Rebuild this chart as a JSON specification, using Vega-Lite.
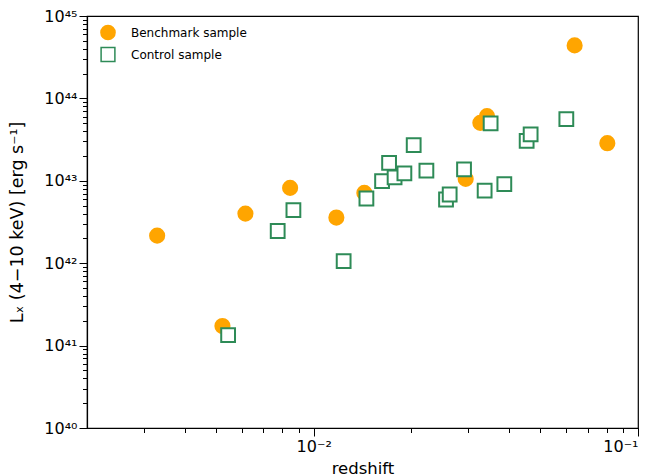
{
  "$schema": "https://vega.github.io/schema/vega-lite/v6.json",
  "width": 551,
  "height": 412,
  "autosize": "none",
  "padding": {"left": 87, "top": 16, "right": 19, "bottom": 48},
  "background": "white",
  "config": {
    "font": "DejaVu Sans",
    "view": {"stroke": "black", "strokeWidth": 1.2},
    "axis": {"grid": false, "domainColor": "black", "tickColor": "black", "labelColor": "black", "titleColor": "black", "titleFontWeight": "normal", "labelFont": "DejaVu Sans", "titleFont": "DejaVu Sans", "domainWidth": 1.2, "tickWidth": 1}
  },
  "data": {
    "values": [
      {"z": 0.003291, "L": 2.16e42, "sample": "Benchmark sample"},
      {"z": 0.005232, "L": 1.73e41, "sample": "Benchmark sample"},
      {"z": 0.006159, "L": 4.0e42, "sample": "Benchmark sample"},
      {"z": 0.008459, "L": 8.2e42, "sample": "Benchmark sample"},
      {"z": 0.011747, "L": 3.58e42, "sample": "Benchmark sample"},
      {"z": 0.01433, "L": 7.13e42, "sample": "Benchmark sample"},
      {"z": 0.02942, "L": 1.055e43, "sample": "Benchmark sample"},
      {"z": 0.03265, "L": 5.05e43, "sample": "Benchmark sample"},
      {"z": 0.03423, "L": 6.1e43, "sample": "Benchmark sample"},
      {"z": 0.06377, "L": 4.4e44, "sample": "Benchmark sample"},
      {"z": 0.08043, "L": 2.86e43, "sample": "Benchmark sample"},
      {"z": 0.005447, "L": 1.34e41, "sample": "Control sample"},
      {"z": 0.007745, "L": 2.46e42, "sample": "Control sample"},
      {"z": 0.008659, "L": 4.4e42, "sample": "Control sample"},
      {"z": 0.01237, "L": 1.06e42, "sample": "Control sample"},
      {"z": 0.01454, "L": 6.1e42, "sample": "Control sample"},
      {"z": 0.01625, "L": 9.9e42, "sample": "Control sample"},
      {"z": 0.01708, "L": 1.65e43, "sample": "Control sample"},
      {"z": 0.01776, "L": 1.1e43, "sample": "Control sample"},
      {"z": 0.01904, "L": 1.23e43, "sample": "Control sample"},
      {"z": 0.02034, "L": 2.71e43, "sample": "Control sample"},
      {"z": 0.02226, "L": 1.33e43, "sample": "Control sample"},
      {"z": 0.02559, "L": 5.93e42, "sample": "Control sample"},
      {"z": 0.02626, "L": 6.82e42, "sample": "Control sample"},
      {"z": 0.02908, "L": 1.38e43, "sample": "Control sample"},
      {"z": 0.03366, "L": 7.62e42, "sample": "Control sample"},
      {"z": 0.03512, "L": 4.97e43, "sample": "Control sample"},
      {"z": 0.03871, "L": 9.1e42, "sample": "Control sample"},
      {"z": 0.04536, "L": 3.05e43, "sample": "Control sample"},
      {"z": 0.04666, "L": 3.65e43, "sample": "Control sample"},
      {"z": 0.06012, "L": 5.6e43, "sample": "Control sample"}
    ]
  },
  "layer": [
    {
      "mark": {"type": "point", "filled": false, "strokeWidth": 2, "opacity": 1},
      "encoding": {
        "x": {
          "field": "z", "type": "quantitative",
          "scale": {"type": "log", "domain": [0.002, 0.1], "nice": false},
          "axis": {"orient": "bottom", "values": [0.01, 0.1], "labelExpr": "datum.value < 0.05 ? '10⁻²' : '10⁻¹'", "labelFontSize": 16, "tickSize": 8, "labelPadding": 2, "title": "redshift", "titleFontSize": 16.5, "titlePadding": 6}
        },
        "y": {
          "field": "L", "type": "quantitative",
          "scale": {"type": "log", "domain": [1e40, 1e45], "nice": false},
          "axis": {"orient": "left", "values": [1e40, 1e41, 1e42, 1e43, 1e44, 1e45], "labelExpr": "datum.value < 5e40 ? '10⁴⁰' : datum.value < 5e41 ? '10⁴¹' : datum.value < 5e42 ? '10⁴²' : datum.value < 5e43 ? '10⁴³' : datum.value < 5e44 ? '10⁴⁴' : '10⁴⁵'", "labelFontSize": 16, "tickSize": 8, "labelPadding": 2, "title": "Lₓ (4−10 keV) [erg s⁻¹]", "titleFontSize": 17.5, "titlePadding": 17}
        },
        "shape": {"field": "sample", "type": "nominal", "scale": {"domain": ["Benchmark sample", "Control sample"], "range": ["circle", "square"]}, "legend": {"title": null, "orient": "none", "legendX": 13, "legendY": 8.5, "labelFontSize": 12, "labelFont": "DejaVu Sans", "labelColor": "black", "labelOffset": 15, "rowPadding": 1, "padding": 0}},
        "fill": {"field": "sample", "type": "nominal", "scale": {"domain": ["Benchmark sample", "Control sample"], "range": ["#ffa500", "white"]}},
        "stroke": {"field": "sample", "type": "nominal", "scale": {"domain": ["Benchmark sample", "Control sample"], "range": ["#ffa500", "#2e8b57"]}},
        "size": {"field": "sample", "type": "nominal", "scale": {"domain": ["Benchmark sample", "Control sample"], "range": [200, 190]}}
      }
    },
    {
      "mark": {"type": "point", "opacity": 0},
      "encoding": {
        "x": {
          "field": "z", "type": "quantitative",
          "axis": {"orient": "bottom", "values": [0.003, 0.004, 0.005, 0.006, 0.007, 0.008, 0.009, 0.02, 0.03, 0.04, 0.05, 0.06, 0.07, 0.08, 0.09], "labels": false, "domain": false, "tickSize": 4.5, "title": null}
        },
        "y": {
          "field": "L", "type": "quantitative",
          "axis": {"orient": "left", "values": [2e40, 3e40, 4e40, 5e40, 6e40, 7e40, 8e40, 9e40, 2e41, 3e41, 4e41, 5e41, 6e41, 7e41, 8e41, 9e41, 2e42, 3e42, 4e42, 5e42, 6e42, 7e42, 8e42, 9e42, 2e43, 3e43, 4e43, 5e43, 6e43, 7e43, 8e43, 9e43, 2e44, 3e44, 4e44, 5e44, 6e44, 7e44, 8e44, 9e44], "labels": false, "domain": false, "tickSize": 4.5, "title": null}
        }
      }
    }
  ],
  "resolve": {"axis": {"x": "independent", "y": "independent"}}
}
